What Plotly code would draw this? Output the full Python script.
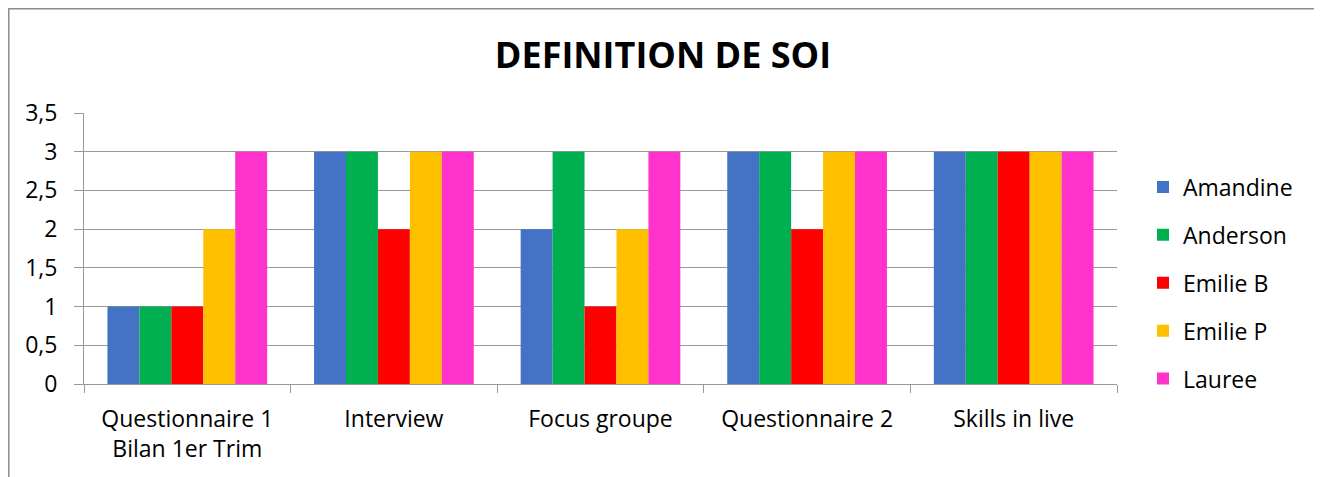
import plotly.graph_objects as go

categories = ["Questionnaire 1<br>Bilan 1er Trim", "Interview", "Focus groupe", "Questionnaire 2", "Skills in live"]
series_names = ["Amandine", "Anderson", "Emilie B", "Emilie P", "Lauree"]
amandine = [1, 3, 2, 3, 3]
anderson = [1, 3, 3, 3, 3]
emilie_b = [1, 2, 1, 2, 3]
emilie_p = [2, 3, 2, 3, 3]
lauree = [3, 3, 3, 3, 3]
colors = ["#4472C4", "#00B050", "#FF0000", "#FFC000", "#FF33CC"]
y_tick_vals = [0, 0.5, 1, 1.5, 2, 2.5, 3, 3.5]
y_tick_text = ["0", "0,5", "1", "1,5", "2", "2,5", "3", "3,5"]

values = [amandine, anderson, emilie_b, emilie_p, lauree]
FONT = "Open Sans"
OFF = 8  # page body margin

fig = go.Figure()
for name, vals, col in zip(series_names, values, colors):
    fig.add_trace(go.Bar(x=categories, y=vals, name=name, marker=dict(color=col, line=dict(width=0)),
                         legendgroup=name))

W, H = 1314, 469
L, R, T, B = 84 - OFF, W - (1117 - OFF), 113 - OFF, H - (384 - OFF)
pw = W - L - R
ph = H - T - B

def fx(px):  # figure px -> paper x
    return (px - L) / pw

def fy(py):  # figure px -> paper y
    return (H - B - py) / ph

fig.update_layout(
    width=W, height=H,
    margin=dict(l=L, r=R, t=T, b=B, pad=0),
    paper_bgcolor="white", plot_bgcolor="white",
    barmode="group", bargap=0.227, bargroupgap=0,
    font=dict(family=FONT, size=23, color="#000000"),
    title=dict(text="<b>DEFINITION DE SOI</b>", x=(663 - OFF) / W, xanchor="center", xref="container",
               y=1 - (55 - OFF) / H, yanchor="middle", yref="container",
               font=dict(family=FONT, size=36, color="#000000")),
    legend=dict(x=fx(1143 - OFF), xanchor="left", y=fy(283 - OFF), yanchor="middle",
                font=dict(family=FONT, size=23), tracegroupgap=15, traceorder="grouped",
                itemwidth=30, bgcolor="rgba(0,0,0,0)"),
    showlegend=True,
)
fig.update_xaxes(showline=True, linecolor="#999999", linewidth=1, ticks="outside", tickson="boundaries",
                 ticklen=8, tickcolor="#999999", showgrid=False, tickfont=dict(size=23),
                 ticklabelstandoff=14)
fig.update_yaxes(range=[0, 3.5], tickvals=y_tick_vals, ticktext=y_tick_text, showgrid=True,
                 gridcolor="#999999", gridwidth=1, ticks="outside", ticklen=9, tickcolor="#999999",
                 showline=True, linecolor="#999999", linewidth=1, zeroline=False,
                 tickfont=dict(size=23), ticklabelstandoff=12)

# outer chart frame
fig.add_shape(type="rect", xref="paper", yref="paper",
              x0=fx(0.8), x1=fx(1310), y0=fy(H + 20), y1=fy(0.8),
              line=dict(color="#8c8c8c", width=1.5), fillcolor="rgba(0,0,0,0)", layer="below")

fig.write_html("out.html")
